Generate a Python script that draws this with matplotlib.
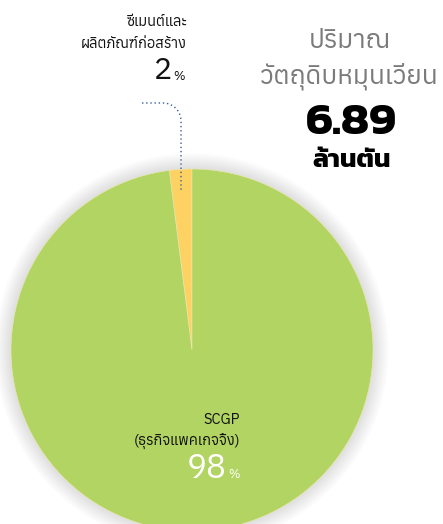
import matplotlib
matplotlib.use("Agg")
import matplotlib.pyplot as plt
from matplotlib.patches import Circle
import numpy as np

categories = ["ซีเมนต์และ\nผลิตภัณฑ์ก่อสร้าง", "SCGP\n(ธุรกิจแพคเกจจิ้ง)"]
values = [2, 98]
colors = ["#FDD162", "#B2D462"]
title_lines = ["ปริมาณ", "วัตถุดิบหมุนเวียน"]
total_value = "6.89"
total_unit = "ล้านตัน"

FAM = ["Anuphan", "Loma", "DejaVu Sans"]
plt.rcParams["font.family"] = FAM

W, H = 443, 524
fig = plt.figure(figsize=(W / 100, H / 100), dpi=100)
ax = fig.add_axes([0, 0, 1, 1])

cx, cy, R = 192, H - 350, 181
# soft shadow
for i in range(16):
    ax.add_patch(Circle((cx, cy), R + 16 - i, color="black", alpha=0.006, lw=0, zorder=0))

ax.pie(values, colors=colors, startangle=90, counterclock=True, center=(cx, cy), radius=R,
       wedgeprops=dict(edgecolor="#EFE9B0", linewidth=0.4), frame=True)
ax.set_xlim(0, W)
ax.set_ylim(0, H)
ax.set_aspect("equal")
ax.axis("off")

def py(y):
    return H - y

# small slice label
l1, l2 = categories[0].split("\n")
ax.text(187, py(22), l1, ha="right", va="center", fontsize=10.5, color="#111111")
ax.text(187, py(44), l2, ha="right", va="center", fontsize=10.5, color="#111111")
ax.text(172, py(71), f"{values[0]}", ha="right", va="center", fontsize=22, fontweight="light", color="#111111")
ax.text(173, py(76), "%", ha="left", va="center", fontsize=9, color="#111111")

# dotted leader line
t = np.linspace(0, np.pi / 2, 20)
xs = list(np.linspace(142, 163, 6)) + list(163 + 18 * np.sin(t)) + [181] * 2
ys = [103] * 6 + list(103 + 18 * (1 - np.cos(t))) + [121, 191]
ax.plot(xs, [py(v) for v in ys], ls=(0, (1, 2)), color="#3A5F94", lw=1.0, zorder=5)

# big slice label
m1, m2 = categories[1].split("\n")
ax.text(240, py(420), m1, ha="right", va="center", fontsize=10.5, color="#111111", zorder=6)
ax.text(240, py(442), m2, ha="right", va="center", fontsize=10.5, color="#111111", zorder=6)
ax.text(227, py(469), f"{values[1]}", ha="right", va="center", fontsize=24, fontweight="light", color="white", zorder=6)
ax.text(228, py(475), "%", ha="left", va="center", fontsize=9, color="white", zorder=6)

# title block
ax.text(350, py(40), title_lines[0], ha="center", va="center", fontsize=19, color="#7B7B7B")
ax.text(349, py(76), title_lines[1], ha="center", va="center", fontsize=19, color="#7B7B7B")
ax.text(351, py(123), total_value, ha="center", va="center", fontsize=33, fontweight="bold",
        family=["Kanit", "Anuphan", "DejaVu Sans"], color="black")
ax.text(352, py(161), total_unit, ha="center", va="center", fontsize=19, fontweight="bold",
        family=["Kanit", "Anuphan", "DejaVu Sans"], color="black")

fig.savefig("out.png", dpi=100)
